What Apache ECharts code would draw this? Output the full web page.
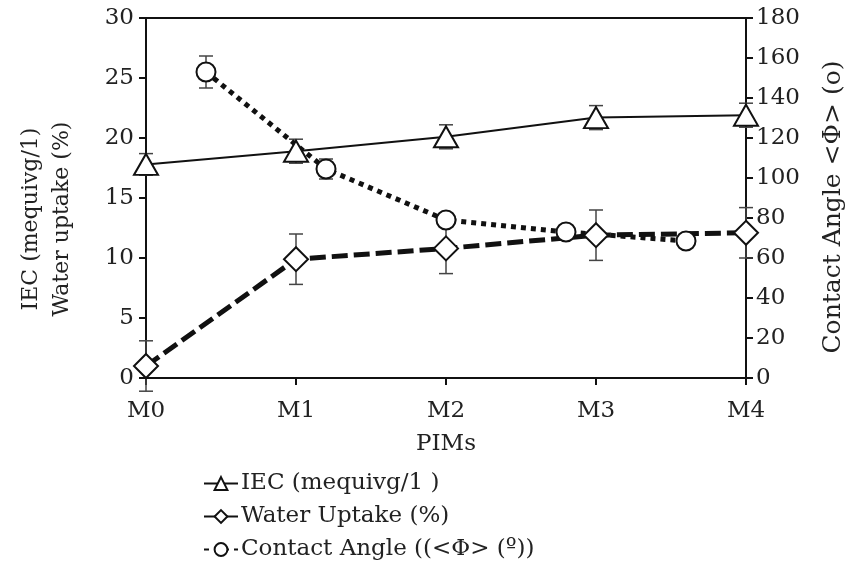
<!DOCTYPE html>
<html>
<head>
<meta charset="utf-8">
<script src="https://cdn.jsdelivr.net/npm/echarts@6/dist/echarts.min.js"></script>
<style>
  html, body { margin: 0; padding: 0; background: #fff; }
  #chart { width: 850px; height: 563px; }
</style>
</head>
<body>
<div id="chart"></div>
<script>
// x positions (0 = M0 ... 4 = M4)
const xLabels = ['M0', 'M1', 'M2', 'M3', 'M4'];
const pimX = [0, 1, 2, 3, 4];
const angleX = [0.4, 1.2, 2.0, 2.8, 3.6];

// values
const iec = [17.8, 18.9, 20.1, 21.7, 21.9];
const iecErr = [0.9, 1.0, 1.0, 1.0, 1.0];
const water = [1.0, 9.9, 10.8, 11.9, 12.1];
const waterErr = [2.1, 2.1, 2.1, 2.1, 2.1];
const angle = [153, 104.5, 79, 73, 68.5];
const angleErr = [8, 5, 2, 1.5, 1.5];

const font = 'DejaVu Serif';
const chart = echarts.init(document.getElementById('chart'));

const errorBars = (xs, ys, errs, yAxisIndex) => ({
    type: 'custom',
    yAxisIndex: yAxisIndex,
    silent: true,
    z: 1,
    data: xs.map((x, i) => [x, ys[i] - errs[i], ys[i] + errs[i]]),
    encode: { x: 0, y: [1, 2] },
    renderItem: (params, api) => {
        const lo = api.coord([api.value(0), api.value(1)]);
        const hi = api.coord([api.value(0), api.value(2)]);
        const w = 7;
        const st = { stroke: '#444', lineWidth: 1.5 };
        return {
            type: 'group',
            children: [
                { type: 'line', shape: { x1: lo[0], y1: lo[1], x2: hi[0], y2: hi[1] }, style: st },
                { type: 'line', shape: { x1: hi[0] - w, y1: hi[1], x2: hi[0] + w, y2: hi[1] }, style: st },
                { type: 'line', shape: { x1: lo[0] - w, y1: lo[1], x2: lo[0] + w, y2: lo[1] }, style: st }
            ]
        };
    }
});

const axisCommon = {
    axisLine: { show: true, lineStyle: { color: '#111', width: 2 } },
    axisTick: { show: true, inside: false, length: 7, lineStyle: { color: '#111', width: 2 } },
    axisLabel: { color: '#222', fontFamily: font, fontSize: 23 },
    splitLine: { show: false }
};

chart.setOption({
    animation: false,
    grid: { left: 146, right: 104, top: 18, bottom: 185, show: true, borderColor: '#111', borderWidth: 2 },
    legend: {
        orient: 'vertical',
        left: 203,
        top: 472,
        padding: 0,
        itemWidth: 34,
        itemHeight: 16,
        itemGap: 10,
        textStyle: { color: '#222', fontFamily: font, fontSize: 23, lineHeight: 22, padding: [0, 0, 0, -2] },
        data: ['IEC (mequivg/1 )', 'Water Uptake (%)', 'Contact Angle ((<Φ> (º))']
    },
    xAxis: {
        type: 'value',
        min: 0,
        max: 4,
        interval: 1,
        name: 'PIMs',
        nameLocation: 'middle',
        nameGap: 55,
        nameTextStyle: { color: '#222', fontFamily: font, fontSize: 23 },
        ...axisCommon,
        axisLabel: { ...axisCommon.axisLabel, margin: 22, formatter: v => xLabels[v] }
    },
    yAxis: [
        { type: 'value', min: 0, max: 30, interval: 5, ...axisCommon,
          axisLabel: { ...axisCommon.axisLabel, margin: 12 } },
        { type: 'value', min: 0, max: 180, interval: 20, position: 'right', ...axisCommon,
          axisLabel: { ...axisCommon.axisLabel, margin: 10 } }
    ],
    graphic: [
        { type: 'text', x: 47, y: 219, rotation: Math.PI / 2,
          style: { text: 'IEC (mequivg/1)\nWater uptake (%)', font: '22px "DejaVu Serif"', fill: '#222',
                   textAlign: 'center', textVerticalAlign: 'middle', lineHeight: 31 } },
        { type: 'text', x: 833, y: 207, rotation: Math.PI / 2,
          style: { text: 'Contact Angle <Φ> (o)', font: '25px "DejaVu Serif"', fill: '#222',
                   textAlign: 'center', textVerticalAlign: 'middle' } }
    ],
    series: [
        errorBars(pimX, iec, iecErr, 0),
        errorBars(pimX, water, waterErr, 0),
        errorBars(angleX, angle, angleErr, 1),
        {
            name: 'IEC (mequivg/1 )',
            type: 'line',
            yAxisIndex: 0,
            z: 3,
            data: pimX.map((x, i) => [x, iec[i]]),
            symbol: 'triangle',
            symbolSize: [24, 21],
            itemStyle: { color: '#fff', borderColor: '#111', borderWidth: 2 },
            lineStyle: { color: '#111', width: 2 }
        },
        {
            name: 'Water Uptake (%)',
            type: 'line',
            yAxisIndex: 0,
            z: 3,
            data: pimX.map((x, i) => [x, water[i]]),
            symbol: 'diamond',
            symbolSize: [24, 24],
            itemStyle: { color: '#fff', borderColor: '#111', borderWidth: 2 },
            lineStyle: { color: '#111', width: 5, type: [16, 6] }
        },
        {
            name: 'Contact Angle ((<Φ> (º))',
            type: 'line',
            yAxisIndex: 1,
            z: 3,
            data: angleX.map((x, i) => [x, angle[i]]),
            symbol: 'circle',
            symbolSize: 19,
            itemStyle: { color: '#fff', borderColor: '#111', borderWidth: 2 },
            lineStyle: { color: '#111', width: 5, type: [5, 5] }
        }
    ]
});
</script>
</body>
</html>
